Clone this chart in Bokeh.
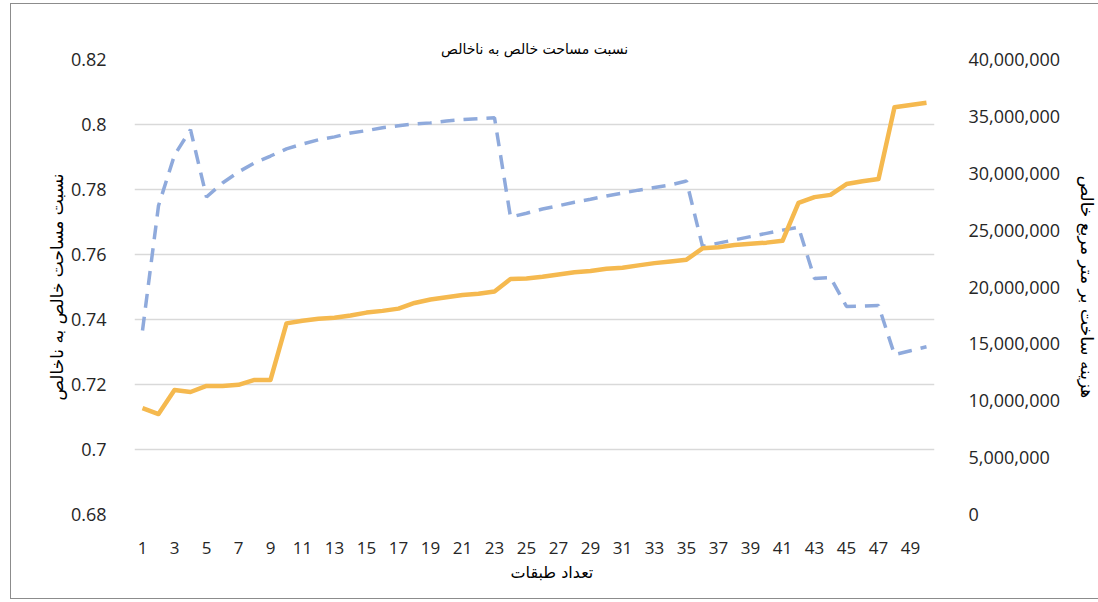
from bokeh.plotting import figure
from bokeh.models import Range1d, LinearAxis, FixedTicker, NumeralTickFormatter, CustomJSTickFormatter, Title
from bokeh.embed import file_html
from bokeh.resources import INLINE

# ---- data ----
floors = list(range(1, 51))
ratio = [0.7366, 0.7750, 0.7906, 0.7984, 0.7777, 0.7820, 0.7854, 0.7882, 0.7903, 0.7925,
         0.7940, 0.7953, 0.7962, 0.7974, 0.7981, 0.7990, 0.7996, 0.8002, 0.8005, 0.8011,
         0.8015, 0.8018, 0.8021, 0.7715, 0.7727, 0.7740, 0.7750, 0.7761, 0.7770, 0.7780,
         0.7789, 0.7798, 0.7806, 0.7814, 0.7826, 0.7625, 0.7635, 0.7645, 0.7655, 0.7665,
         0.7675, 0.7684, 0.7526, 0.7529, 0.7440, 0.7441, 0.7443, 0.7292, 0.7304, 0.7316]
cost = [9360000, 8830000, 10950000, 10770000, 11300000, 11300000, 11400000, 11830000, 11830000, 16800000,
        17040000, 17200000, 17300000, 17500000, 17750000, 17900000, 18100000, 18600000, 18900000, 19100000,
        19300000, 19400000, 19600000, 20700000, 20750000, 20900000, 21100000, 21300000, 21400000, 21600000,
        21700000, 21900000, 22100000, 22250000, 22400000, 23400000, 23500000, 23700000, 23800000, 23900000,
        24060000, 27400000, 27900000, 28100000, 29050000, 29300000, 29500000, 35800000, 36000000, 36200000]
x_ticks = list(range(1, 50, 2))
left_ticks = [0.68, 0.70, 0.72, 0.74, 0.76, 0.78, 0.80, 0.82]
right_ticks = list(range(0, 40000001, 5000000))

title_text = "نسبت مساحت خالص به ناخالص"
x_title = "تعداد طبقات"
left_title = "نسبت مساحت خالص به ناخالص"
right_title = "هزینه ساخت بر متر مربع خالص"

FA_FONT = "DejaVu Sans"
NUM_FONT = "Open Sans"
TXT = "#262626"

p = figure(frame_width=800, frame_height=455, output_backend="svg", toolbar_location=None,
           x_range=Range1d(0.5, 50.5), y_range=Range1d(0.68, 0.82),
           min_border_left=123, min_border_right=150, min_border_top=55, min_border_bottom=84,
           title=title_text)
p.styles = {"border": "1px solid #8c8c8c", "margin-left": "10px", "margin-top": "3px"}
p.outline_line_color = None
p.background_fill_color = "white"
p.border_fill_color = "white"

p.title.text_font = FA_FONT
p.title.text_font_size = "14px"
p.title.text_font_style = "normal"
p.title.text_color = "#000000"
p.title.align = "center"
p.title.standoff = 6

p.extra_y_ranges = {"cost": Range1d(0, 40000000)}

# grid
p.xgrid.grid_line_color = None
p.ygrid.grid_line_color = "#d9d9d9"
p.ygrid.grid_line_width = 1.5

# x axis
xa = p.xaxis[0]
xa.ticker = FixedTicker(ticks=x_ticks)
xa.axis_line_color = None
xa.major_tick_line_color = None
xa.minor_tick_line_color = None
xa.major_label_standoff = 21
xa.major_label_text_font = NUM_FONT
xa.major_label_text_font_size = "17px"
xa.major_label_text_color = TXT

# x axis title (centred on the whole chart, as in the reference)
xt = Title(text=x_title, align="left", offset=376, standoff=8,
           text_font=FA_FONT, text_font_size="16px", text_font_style="normal",
           text_color="#000000")
p.add_layout(xt, "below")

# left axis
ya = p.yaxis[0]
ya.ticker = FixedTicker(ticks=left_ticks)
ya.formatter = CustomJSTickFormatter(code="return parseFloat(tick.toFixed(2)).toString();")
ya.axis_line_color = None
ya.major_tick_line_color = None
ya.minor_tick_line_color = None
ya.major_label_standoff = 22
ya.major_label_text_font = NUM_FONT
ya.major_label_text_font_size = "18px"
ya.major_label_text_color = TXT
ya.axis_label = left_title
ya.axis_label_text_font = FA_FONT
ya.axis_label_text_font_size = "17px"
ya.axis_label_text_font_style = "normal"
ya.axis_label_text_color = "#000000"
ya.axis_label_standoff = 1

# right axis
ra = LinearAxis(y_range_name="cost", ticker=FixedTicker(ticks=right_ticks),
                formatter=NumeralTickFormatter(format="0,0"))
ra.axis_line_color = None
ra.major_tick_line_color = None
ra.minor_tick_line_color = None
ra.major_label_standoff = 28
ra.major_label_text_font = NUM_FONT
ra.major_label_text_font_size = "18px"
ra.major_label_text_color = TXT
ra.axis_label = right_title
ra.axis_label_text_font = FA_FONT
ra.axis_label_text_font_size = "17px"
ra.axis_label_text_font_style = "normal"
ra.axis_label_text_color = "#000000"
ra.axis_label_standoff = 14
p.add_layout(ra, "right")

# lines
p.line(floors, ratio, line_color="#8faadc", line_width=3.5, line_dash="14 9")
p.line(floors, cost, y_range_name="cost", line_color="#f5b94f", line_width=4.5, line_join="round")

open("out.html", "w").write(file_html(p, INLINE))
